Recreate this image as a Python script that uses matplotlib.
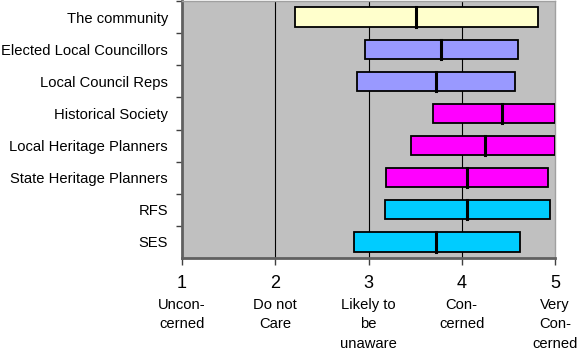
import matplotlib
matplotlib.use("Agg")
import matplotlib.pyplot as plt

categories = ["The community", "Elected Local Councillors", "Local Council Reps",
              "Historical Society", "Local Heritage Planners", "State Heritage Planners",
              "RFS", "SES"]
low = [2.21, 2.96, 2.88, 3.69, 3.46, 3.19, 3.18, 2.84]
median = [3.51, 3.78, 3.72, 4.43, 4.25, 4.06, 4.06, 3.72]
high = [4.82, 4.60, 4.57, 5.00, 5.00, 4.93, 4.95, 4.62]
colors = ["#FFFFCC", "#9999FF", "#9999FF", "#FF00FF", "#FF00FF", "#FF00FF", "#00CCFF", "#00CCFF"]
xticks = [1, 2, 3, 4, 5]
scale_labels = ["Uncon-\ncerned", "Do not\nCare", "Likely to\nbe\nunaware", "Con-\ncerned", "Very\nCon-\ncerned"]

plt.rcParams['font.family'] = ['Liberation Sans', 'DejaVu Sans']

fig = plt.figure(figsize=(5.82, 3.59), dpi=100)
ax = fig.add_axes([182/582, 1 - 258/359, (555-182)/582, (258-1)/359])
ax.set_facecolor("#C0C0C0")

y = list(range(len(categories)))
h = 0.6
for i in y:
    ax.barh(i, median[i] - low[i], left=low[i], height=h, color=colors[i],
            edgecolor="black", linewidth=1.3, zorder=3)
    ax.barh(i, high[i] - median[i], left=median[i], height=h, color=colors[i],
            edgecolor="black", linewidth=1.3, zorder=3)
    ax.plot([median[i], median[i]], [i - h/2, i + h/2], color="black", lw=2.2, zorder=4)

ax.set_xlim(1, 5)
ax.set_ylim(len(categories) - 0.5, -0.5)
for xv in xticks[1:-1]:
    ax.axvline(xv, color="black", lw=0.8, zorder=1)

ax.set_xticks(xticks)
ax.set_xticklabels([str(v) for v in xticks], fontsize=13)
ax.tick_params(axis='x', length=5, width=1, color="#404040", pad=7, direction='out')
ax.set_yticks(y)
ax.set_yticklabels(categories, fontsize=10.6)
ax.set_yticks([i + 0.5 for i in y[:-1]] + [-0.5], minor=True)
ax.tick_params(axis='y', which='major', length=0, pad=10)
ax.tick_params(axis='y', which='minor', length=4, width=1, color="#404040", direction='out')

for s in ["top", "right"]:
    ax.spines[s].set_color("#A0A0A0")
    ax.spines[s].set_linewidth(1)
for s in ["left", "bottom"]:
    ax.spines[s].set_color("#606060")
    ax.spines[s].set_linewidth(2)

for xv, lab in zip(xticks, scale_labels):
    ax.annotate(lab, xy=(xv, 0), xycoords=('data', 'axes fraction'),
                xytext=(0, -40), textcoords='offset pixels', ha='center', va='top',
                fontsize=10.6, linespacing=1.5)

fig.savefig("out.png", dpi=100)
